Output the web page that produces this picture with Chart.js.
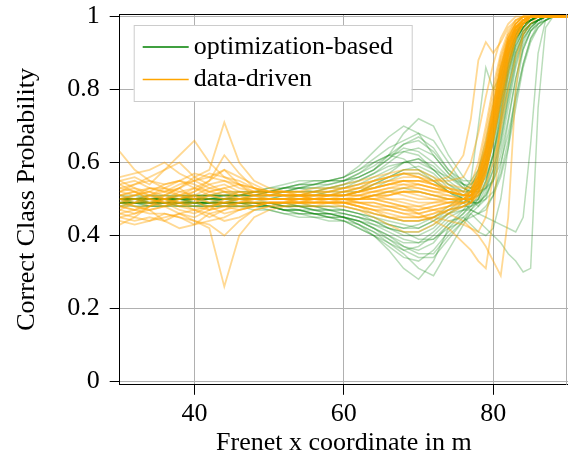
<!DOCTYPE html>
<html>
<head>
<meta charset="utf-8">
<script src="https://cdn.jsdelivr.net/npm/chart.js@4/dist/chart.umd.min.js"></script>
<style>
  html, body { margin: 0; padding: 0; background: #fff; }
</style>
</head>
<body>
<canvas id="probChart" width="568" height="456"></canvas>
<script>
// frenet x positions (m) shared by every run
const X_POS = [30,32,34,36,38,40,42,44,46,48,50,52,54,56,58,60,62,64,66,68,70,72,74,76,
               77,78,79,80,81,82,83,84,85,86,87,88,90]
const X_TICKS = [40, 60, 80]
const Y_TICKS = [0, 0.2, 0.4, 0.6, 0.8, 1]
const SERIES_NAMES = ['optimization-based', 'data-driven']

// correct class probability, one row per run
const optimizationRuns = [
  [0.50,0.50,0.49,0.50,0.50,0.49,0.50,0.50,0.50,0.51,0.52, 0.53,0.54,0.54,0.55,0.55, 0.57,0.59,0.62,0.65,0.66,0.63,0.58,0.55, 0.55,0.58,0.64,0.72,0.82,0.90,0.95,0.98,0.99,1.00,1.00,1.00, 1.00],
  [0.49,0.49,0.48,0.48,0.49,0.49,0.48,0.48,0.49,0.49,0.48, 0.47,0.47,0.46,0.46,0.45, 0.44,0.42,0.40,0.38,0.38,0.41,0.45,0.47, 0.48,0.50,0.55,0.63,0.74,0.85,0.93,0.97,0.99,1.00,1.00,1.00, 1.00],
  [0.50,0.51,0.51,0.50,0.50,0.51,0.51,0.52,0.52,0.52,0.53, 0.53,0.53,0.52,0.53,0.54, 0.56,0.58,0.62,0.68,0.72,0.70,0.62,0.56, 0.54,0.56,0.60,0.68,0.78,0.87,0.94,0.97,0.99,1.00,1.00,1.00, 1.00],
  [0.49,0.49,0.49,0.48,0.48,0.48,0.49,0.49,0.49,0.49,0.48, 0.47,0.46,0.46,0.45,0.44, 0.42,0.40,0.36,0.31,0.28,0.33,0.42,0.46, 0.49,0.53,0.60,0.70,0.80,0.89,0.95,0.98,0.99,1.00,1.00,1.00, 1.00],
  [0.50,0.50,0.50,0.49,0.49,0.50,0.50,0.50,0.51,0.51,0.51, 0.52,0.52,0.52,0.51,0.51, 0.52,0.54,0.56,0.58,0.59,0.57,0.53,0.50, 0.50,0.51,0.53,0.58,0.66,0.77,0.87,0.94,0.97,0.99,1.00,1.00, 1.00],
  [0.48,0.48,0.48,0.49,0.49,0.48,0.48,0.48,0.48,0.47,0.47, 0.46,0.45,0.45,0.45,0.45, 0.44,0.42,0.40,0.37,0.35,0.35,0.40,0.44, 0.46,0.44,0.42,0.40,0.38,0.35,0.33,0.30,0.31,0.75,0.97,1.00, 1.00],
  [0.50,0.50,0.50,0.51,0.51,0.50,0.50,0.51,0.51,0.52,0.52, 0.53,0.54,0.55,0.55,0.56, 0.58,0.60,0.62,0.63,0.62,0.58,0.54,0.52, 0.55,0.70,0.86,0.80,0.84,0.92,0.96,0.98,0.99,1.00,1.00,1.00, 1.00],
  [0.49,0.49,0.50,0.50,0.49,0.49,0.49,0.50,0.50,0.50,0.49, 0.48,0.48,0.47,0.47,0.46, 0.45,0.44,0.42,0.40,0.40,0.42,0.46,0.49, 0.51,0.55,0.62,0.72,0.83,0.91,0.96,0.98,0.99,1.00,1.00,1.00, 1.00],
  [0.50,0.50,0.49,0.49,0.50,0.50,0.51,0.51,0.51,0.51,0.52, 0.52,0.53,0.53,0.54,0.55, 0.56,0.58,0.61,0.64,0.63,0.60,0.56,0.53, 0.52,0.52,0.53,0.55,0.60,0.68,0.78,0.87,0.94,0.98,0.99,1.00, 1.00],
  [0.48,0.49,0.49,0.49,0.48,0.48,0.48,0.49,0.48,0.48,0.48, 0.47,0.47,0.46,0.45,0.44, 0.42,0.40,0.37,0.34,0.33,0.36,0.41,0.45, 0.47,0.49,0.53,0.60,0.70,0.81,0.90,0.95,0.98,0.99,1.00,1.00, 1.00],
  [0.50,0.49,0.49,0.49,0.50,0.50,0.50,0.49,0.49,0.49,0.49, 0.49,0.48,0.48,0.48,0.48, 0.47,0.46,0.45,0.44,0.44,0.45,0.47,0.48, 0.48,0.49,0.51,0.56,0.64,0.75,0.86,0.93,0.97,0.99,1.00,1.00, 1.00],
  [0.51,0.51,0.50,0.50,0.50,0.51,0.51,0.51,0.52,0.52,0.53, 0.54,0.55,0.55,0.55,0.56, 0.58,0.61,0.64,0.66,0.68,0.66,0.60,0.54, 0.50,0.48,0.50,0.56,0.66,0.78,0.88,0.94,0.97,0.99,1.00,1.00, 1.00],
  [0.49,0.48,0.48,0.48,0.49,0.49,0.49,0.48,0.48,0.48,0.47, 0.46,0.46,0.45,0.44,0.44, 0.43,0.41,0.38,0.36,0.37,0.40,0.44,0.45, 0.43,0.41,0.40,0.42,0.50,0.64,0.80,0.91,0.96,0.99,1.00,1.00, 1.00],
  [0.49,0.50,0.50,0.50,0.50,0.50,0.50,0.50,0.50,0.50,0.50, 0.51,0.51,0.51,0.52,0.52, 0.53,0.55,0.57,0.60,0.61,0.59,0.55,0.52, 0.52,0.54,0.59,0.67,0.77,0.87,0.94,0.97,0.99,1.00,1.00,1.00, 1.00],
  [0.50,0.50,0.50,0.50,0.51,0.51,0.50,0.50,0.51,0.52,0.52, 0.52,0.53,0.54,0.54,0.55, 0.57,0.60,0.62,0.61,0.58,0.55,0.52,0.50, 0.49,0.50,0.54,0.62,0.73,0.84,0.92,0.96,0.98,0.99,1.00,1.00, 1.00],
  [0.49,0.49,0.49,0.49,0.49,0.49,0.49,0.49,0.49,0.49,0.48, 0.48,0.47,0.47,0.46,0.45, 0.44,0.43,0.42,0.41,0.39,0.39,0.42,0.44, 0.45,0.46,0.48,0.51,0.56,0.64,0.75,0.86,0.93,0.97,0.99,1.00, 1.00],
  [0.50,0.50,0.51,0.51,0.50,0.50,0.50,0.51,0.51,0.52,0.52, 0.53,0.53,0.54,0.55,0.56, 0.59,0.63,0.67,0.70,0.68,0.62,0.57,0.54, 0.53,0.55,0.60,0.69,0.80,0.89,0.95,0.98,0.99,1.00,1.00,1.00, 1.00],
  [0.49,0.49,0.48,0.48,0.48,0.49,0.49,0.49,0.49,0.48,0.48, 0.47,0.47,0.46,0.46,0.45, 0.43,0.40,0.38,0.35,0.31,0.29,0.36,0.43, 0.46,0.48,0.52,0.58,0.68,0.79,0.89,0.95,0.98,0.99,1.00,1.00, 1.00],
  [0.50,0.50,0.49,0.49,0.49,0.50,0.50,0.50,0.49,0.49,0.49, 0.49,0.48,0.48,0.47,0.47, 0.46,0.45,0.44,0.43,0.42,0.44,0.46,0.47, 0.47,0.46,0.45,0.44,0.43,0.42,0.41,0.45,0.65,0.90,0.99,1.00, 1.00],
  [0.51,0.50,0.50,0.50,0.51,0.51,0.51,0.51,0.51,0.51,0.51, 0.52,0.52,0.52,0.53,0.53, 0.55,0.57,0.59,0.60,0.60,0.58,0.56,0.54, 0.54,0.57,0.63,0.71,0.81,0.90,0.95,0.98,0.99,1.00,1.00,1.00, 1.00],
  [0.49,0.49,0.49,0.50,0.50,0.49,0.49,0.49,0.49,0.49,0.49, 0.48,0.48,0.48,0.47,0.47, 0.46,0.45,0.43,0.42,0.42,0.44,0.47,0.50, 0.52,0.56,0.63,0.73,0.84,0.92,0.96,0.98,0.99,1.00,1.00,1.00, 1.00],
  [0.50,0.50,0.50,0.50,0.49,0.49,0.49,0.49,0.50,0.50,0.50, 0.50,0.50,0.50,0.50,0.50, 0.50,0.51,0.52,0.53,0.52,0.51,0.50,0.49, 0.49,0.49,0.50,0.52,0.57,0.66,0.77,0.87,0.94,0.97,0.99,1.00, 1.00],
  [0.50,0.50,0.50,0.50,0.50,0.50,0.50,0.50,0.50,0.50,0.50, 0.51,0.51,0.52,0.52,0.53, 0.54,0.56,0.58,0.60,0.61,0.58,0.54,0.51, 0.51,0.53,0.58,0.66,0.76,0.86,0.93,0.97,0.99,1.00,1.00,1.00, 1.00],
  [0.49,0.49,0.49,0.49,0.49,0.49,0.49,0.49,0.49,0.49,0.49, 0.48,0.48,0.47,0.47,0.46, 0.45,0.43,0.41,0.39,0.38,0.39,0.43,0.46, 0.48,0.51,0.57,0.66,0.77,0.87,0.94,0.97,0.99,1.00,1.00,1.00, 1.00],
  [0.50,0.50,0.50,0.50,0.50,0.51,0.51,0.51,0.51,0.51,0.52, 0.52,0.53,0.53,0.53,0.54, 0.55,0.57,0.60,0.63,0.64,0.62,0.57,0.53, 0.52,0.53,0.56,0.62,0.71,0.81,0.90,0.95,0.98,0.99,1.00,1.00, 1.00],
  [0.49,0.49,0.49,0.49,0.48,0.48,0.48,0.48,0.48,0.48,0.48, 0.47,0.46,0.46,0.46,0.45, 0.44,0.42,0.39,0.37,0.36,0.38,0.43,0.47, 0.50,0.54,0.61,0.71,0.81,0.90,0.95,0.98,0.99,1.00,1.00,1.00, 1.00],
  [0.50,0.50,0.50,0.50,0.50,0.50,0.50,0.50,0.50,0.50,0.51, 0.51,0.51,0.51,0.51,0.52, 0.52,0.53,0.55,0.57,0.57,0.55,0.52,0.50, 0.49,0.49,0.51,0.55,0.62,0.72,0.83,0.91,0.96,0.98,0.99,1.00, 1.00],
  [0.49,0.49,0.50,0.50,0.50,0.49,0.49,0.49,0.49,0.49,0.49, 0.49,0.49,0.48,0.48,0.47, 0.46,0.44,0.42,0.41,0.41,0.43,0.46,0.48, 0.49,0.52,0.58,0.68,0.79,0.88,0.94,0.97,0.99,1.00,1.00,1.00, 1.00],
  [0.50,0.50,0.51,0.51,0.51,0.51,0.51,0.51,0.51,0.52,0.52, 0.53,0.54,0.54,0.55,0.55, 0.56,0.58,0.61,0.65,0.67,0.64,0.58,0.54, 0.53,0.54,0.58,0.65,0.75,0.85,0.92,0.96,0.98,0.99,1.00,1.00, 1.00],
  [0.50,0.49,0.49,0.49,0.49,0.49,0.49,0.50,0.50,0.49,0.49, 0.48,0.48,0.47,0.46,0.46, 0.45,0.44,0.43,0.42,0.43,0.45,0.48,0.51, 0.53,0.58,0.66,0.76,0.86,0.93,0.97,0.99,1.00,1.00,1.00,1.00, 1.00],
  [0.49,0.50,0.50,0.50,0.50,0.50,0.49,0.49,0.50,0.50,0.50, 0.50,0.51,0.51,0.51,0.51, 0.52,0.54,0.56,0.58,0.58,0.56,0.52,0.49, 0.47,0.46,0.47,0.51,0.59,0.71,0.83,0.92,0.96,0.98,1.00,1.00, 1.00],
  [0.50,0.50,0.49,0.49,0.49,0.49,0.49,0.49,0.49,0.48,0.48, 0.47,0.47,0.46,0.45,0.45, 0.43,0.41,0.39,0.36,0.34,0.34,0.39,0.44, 0.47,0.50,0.55,0.62,0.72,0.83,0.91,0.96,0.98,0.99,1.00,1.00, 1.00]
]

const dataDrivenRuns = [
  [0.55,0.56,0.54,0.58,0.60,0.56,0.58,0.71,0.60,0.55,0.53, 0.52,0.51,0.51,0.51,0.51, 0.52,0.53,0.54,0.55,0.55,0.54,0.53,0.52, 0.54,0.60,0.70,0.81,0.90,0.96,0.99,1.00,1.00,1.00,1.00,1.00, 1.00],
  [0.46,0.45,0.44,0.45,0.46,0.44,0.42,0.26,0.40,0.45,0.47, 0.48,0.49,0.49,0.49,0.49, 0.49,0.48,0.47,0.46,0.46,0.47,0.48,0.49, 0.50,0.55,0.64,0.75,0.86,0.94,0.98,1.00,1.00,1.00,1.00,1.00, 1.00],
  [0.63,0.58,0.55,0.54,0.55,0.57,0.56,0.55,0.54,0.53,0.52, 0.52,0.51,0.51,0.51,0.52, 0.53,0.55,0.56,0.57,0.57,0.55,0.53,0.51, 0.51,0.54,0.60,0.70,0.81,0.90,0.96,0.99,1.00,1.00,1.00,1.00, 1.00],
  [0.44,0.43,0.44,0.46,0.45,0.43,0.44,0.45,0.47,0.48,0.49, 0.49,0.50,0.50,0.49,0.49, 0.48,0.46,0.45,0.44,0.44,0.45,0.47,0.49, 0.50,0.53,0.60,0.71,0.83,0.92,0.97,0.99,1.00,1.00,1.00,1.00, 1.00],
  [0.52,0.53,0.52,0.50,0.51,0.53,0.52,0.51,0.50,0.50,0.50, 0.50,0.50,0.50,0.50,0.50, 0.51,0.50,0.49,0.48,0.46,0.44,0.42,0.38, 0.36,0.33,0.31,0.45,0.72,0.90,0.97,0.99,1.00,1.00,1.00,1.00, 1.00],
  [0.48,0.47,0.48,0.49,0.48,0.47,0.48,0.49,0.49,0.49,0.50, 0.50,0.50,0.49,0.49,0.49, 0.48,0.47,0.47,0.46,0.45,0.45,0.44,0.43, 0.42,0.40,0.37,0.33,0.29,0.45,0.80,0.96,1.00,1.00,1.00,1.00, 1.00],
  [0.50,0.51,0.53,0.52,0.51,0.52,0.54,0.55,0.53,0.52,0.51, 0.51,0.51,0.52,0.52,0.53, 0.54,0.55,0.56,0.57,0.56,0.55,0.56,0.62, 0.72,0.88,0.93,0.90,0.93,0.97,0.99,1.00,1.00,1.00,1.00,1.00, 1.00],
  [0.53,0.54,0.56,0.58,0.62,0.66,0.60,0.56,0.54,0.53,0.52, 0.51,0.51,0.50,0.50,0.50, 0.50,0.51,0.52,0.53,0.54,0.53,0.52,0.51, 0.52,0.56,0.64,0.75,0.86,0.94,0.98,1.00,1.00,1.00,1.00,1.00, 1.00],
  [0.47,0.46,0.47,0.44,0.42,0.43,0.46,0.44,0.45,0.47,0.48, 0.49,0.49,0.49,0.50,0.50, 0.50,0.50,0.49,0.48,0.48,0.49,0.50,0.50, 0.51,0.54,0.61,0.72,0.84,0.93,0.97,0.99,1.00,1.00,1.00,1.00, 1.00],
  [0.50,0.50,0.51,0.50,0.49,0.50,0.51,0.50,0.50,0.50,0.50, 0.50,0.50,0.50,0.51,0.51, 0.52,0.52,0.53,0.53,0.53,0.52,0.52,0.51, 0.51,0.54,0.60,0.70,0.81,0.90,0.96,0.98,1.00,1.00,1.00,1.00, 1.00],
  [0.54,0.55,0.53,0.52,0.53,0.55,0.57,0.56,0.55,0.53,0.52, 0.52,0.52,0.53,0.53,0.54, 0.55,0.56,0.57,0.58,0.58,0.56,0.54,0.53, 0.53,0.56,0.63,0.74,0.85,0.93,0.97,0.99,1.00,1.00,1.00,1.00, 1.00],
  [0.49,0.48,0.47,0.48,0.49,0.48,0.47,0.48,0.49,0.49,0.49, 0.49,0.49,0.48,0.48,0.48, 0.47,0.45,0.43,0.41,0.41,0.43,0.46,0.48, 0.49,0.51,0.57,0.67,0.79,0.89,0.95,0.98,1.00,1.00,1.00,1.00, 1.00],
  [0.51,0.52,0.50,0.49,0.50,0.51,0.50,0.49,0.50,0.51,0.51, 0.51,0.51,0.51,0.51,0.51, 0.51,0.52,0.52,0.51,0.50,0.50,0.50,0.50, 0.50,0.51,0.54,0.60,0.69,0.80,0.89,0.95,0.98,1.00,1.00,1.00, 1.00],
  [0.43,0.45,0.48,0.51,0.53,0.50,0.47,0.50,0.52,0.51,0.50, 0.50,0.49,0.49,0.49,0.49, 0.50,0.51,0.51,0.52,0.51,0.50,0.49,0.49, 0.50,0.54,0.62,0.73,0.84,0.93,0.97,0.99,1.00,1.00,1.00,1.00, 1.00],
  [0.56,0.57,0.58,0.60,0.57,0.55,0.56,0.58,0.56,0.54,0.52, 0.51,0.50,0.50,0.50,0.51, 0.52,0.54,0.55,0.56,0.56,0.54,0.52,0.51, 0.52,0.57,0.66,0.77,0.88,0.95,0.99,1.00,1.00,1.00,1.00,1.00, 1.00],
  [0.45,0.44,0.45,0.44,0.46,0.47,0.45,0.47,0.48,0.48,0.49, 0.49,0.49,0.50,0.50,0.49, 0.48,0.47,0.46,0.45,0.45,0.46,0.48,0.50, 0.52,0.58,0.68,0.79,0.89,0.95,0.98,1.00,1.00,1.00,1.00,1.00, 1.00],
  [0.50,0.49,0.49,0.50,0.51,0.50,0.49,0.49,0.50,0.50,0.50, 0.50,0.50,0.51,0.51,0.51, 0.51,0.51,0.50,0.49,0.48,0.47,0.46,0.44, 0.42,0.41,0.45,0.56,0.71,0.85,0.94,0.98,1.00,1.00,1.00,1.00, 1.00],
  [0.52,0.51,0.52,0.54,0.55,0.53,0.55,0.62,0.57,0.53,0.51, 0.51,0.51,0.50,0.50,0.50, 0.50,0.50,0.51,0.52,0.52,0.51,0.50,0.50, 0.51,0.55,0.63,0.74,0.85,0.93,0.97,0.99,1.00,1.00,1.00,1.00, 1.00],
  [0.48,0.47,0.46,0.46,0.45,0.44,0.43,0.40,0.44,0.47,0.48, 0.48,0.48,0.48,0.49,0.49, 0.48,0.47,0.45,0.44,0.44,0.45,0.47,0.48, 0.49,0.52,0.58,0.68,0.80,0.90,0.96,0.99,1.00,1.00,1.00,1.00, 1.00],
  [0.51,0.52,0.53,0.53,0.52,0.51,0.53,0.54,0.52,0.51,0.51, 0.51,0.51,0.52,0.52,0.53, 0.54,0.55,0.56,0.57,0.56,0.54,0.52,0.51, 0.51,0.53,0.58,0.67,0.78,0.88,0.95,0.98,1.00,1.00,1.00,1.00, 1.00],
  [0.47,0.49,0.51,0.50,0.48,0.49,0.51,0.52,0.50,0.49,0.49, 0.49,0.49,0.50,0.50,0.50, 0.49,0.49,0.48,0.48,0.47,0.48,0.49,0.50, 0.50,0.53,0.59,0.69,0.81,0.91,0.96,0.99,1.00,1.00,1.00,1.00, 1.00],
  [0.55,0.53,0.51,0.52,0.54,0.55,0.53,0.52,0.52,0.52,0.52, 0.52,0.52,0.52,0.53,0.53, 0.53,0.53,0.54,0.55,0.55,0.55,0.55,0.56, 0.60,0.68,0.78,0.87,0.94,0.98,1.00,1.00,1.00,1.00,1.00,1.00, 1.00],
  [0.51,0.50,0.49,0.50,0.52,0.53,0.51,0.50,0.50,0.51,0.51, 0.51,0.51,0.50,0.50,0.50, 0.50,0.51,0.51,0.52,0.52,0.51,0.51,0.50, 0.50,0.53,0.59,0.69,0.80,0.90,0.96,0.99,1.00,1.00,1.00,1.00, 1.00],
  [0.48,0.49,0.50,0.49,0.47,0.46,0.48,0.49,0.48,0.49,0.49, 0.49,0.50,0.50,0.50,0.50, 0.49,0.48,0.48,0.47,0.47,0.48,0.49,0.50, 0.51,0.55,0.62,0.72,0.83,0.92,0.97,0.99,1.00,1.00,1.00,1.00, 1.00],
  [0.53,0.52,0.51,0.53,0.55,0.54,0.52,0.53,0.54,0.52,0.51, 0.51,0.51,0.51,0.52,0.52, 0.53,0.54,0.55,0.55,0.55,0.54,0.53,0.52, 0.52,0.56,0.63,0.73,0.84,0.92,0.97,0.99,1.00,1.00,1.00,1.00, 1.00],
  [0.50,0.48,0.47,0.48,0.50,0.51,0.49,0.48,0.49,0.50,0.50, 0.50,0.50,0.50,0.50,0.50, 0.50,0.50,0.50,0.50,0.49,0.49,0.49,0.49, 0.49,0.52,0.58,0.68,0.79,0.89,0.95,0.98,1.00,1.00,1.00,1.00, 1.00],
  [0.52,0.54,0.55,0.53,0.51,0.50,0.52,0.53,0.51,0.50,0.50, 0.50,0.51,0.51,0.51,0.52, 0.52,0.53,0.54,0.55,0.54,0.53,0.52,0.51, 0.52,0.57,0.65,0.76,0.87,0.94,0.98,1.00,1.00,1.00,1.00,1.00, 1.00],
  [0.46,0.47,0.49,0.48,0.46,0.45,0.47,0.48,0.47,0.48,0.49, 0.49,0.49,0.49,0.49,0.48, 0.47,0.46,0.45,0.45,0.45,0.46,0.47,0.48, 0.49,0.52,0.57,0.66,0.77,0.87,0.94,0.98,1.00,1.00,1.00,1.00, 1.00],
  [0.50,0.51,0.52,0.51,0.50,0.52,0.55,0.58,0.54,0.51,0.50, 0.50,0.50,0.50,0.51,0.51, 0.51,0.52,0.53,0.54,0.54,0.53,0.52,0.51, 0.51,0.55,0.61,0.71,0.82,0.91,0.96,0.99,1.00,1.00,1.00,1.00, 1.00],
  [0.49,0.50,0.50,0.49,0.49,0.49,0.48,0.46,0.47,0.48,0.49, 0.49,0.49,0.49,0.49,0.49, 0.49,0.49,0.48,0.47,0.46,0.47,0.48,0.49, 0.50,0.54,0.61,0.72,0.83,0.92,0.97,0.99,1.00,1.00,1.00,1.00, 1.00],
  [0.54,0.52,0.50,0.51,0.53,0.56,0.54,0.52,0.51,0.52,0.52, 0.52,0.52,0.51,0.51,0.51, 0.52,0.53,0.54,0.54,0.53,0.52,0.51,0.50, 0.50,0.52,0.57,0.66,0.77,0.87,0.94,0.98,1.00,1.00,1.00,1.00, 1.00],
  [0.45,0.46,0.48,0.50,0.49,0.47,0.46,0.47,0.49,0.50,0.50, 0.50,0.49,0.49,0.49,0.50, 0.50,0.51,0.52,0.52,0.52,0.51,0.50,0.50, 0.51,0.56,0.64,0.75,0.86,0.94,0.98,1.00,1.00,1.00,1.00,1.00, 1.00]
]

const FONT = "'Liberation Serif', 'Times New Roman', serif"
const GREEN = '0, 128, 0'
const ORANGE = '255, 165, 0'

Chart.defaults.font.family = FONT
Chart.defaults.font.size = 26
Chart.defaults.color = '#000'

function toPoints(run){
    return run.map((y, i) => ({x: X_POS[i], y: y}))
}

// orange (data-driven) is drawn over the green runs
function getDataSets(){
    let sets = []
    optimizationRuns.forEach(run => {
        sets.push({
            label: SERIES_NAMES[0],
            data: toPoints(run),
            borderColor: 'rgba(' + GREEN + ', 0.27)',
            borderWidth: 1.5,
            pointRadius: 0,
            fill: false,
            order: 1
        })
    })
    dataDrivenRuns.forEach(run => {
        sets.push({
            label: SERIES_NAMES[1],
            data: toPoints(run),
            borderColor: 'rgba(' + ORANGE + ', 0.42)',
            borderWidth: 1.8,
            pointRadius: 0,
            fill: false,
            order: 0
        })
    })
    return sets
}

// frame on top / right plus the boxed legend inside the plot
const frameAndLegend = {
    id: 'frameAndLegend',
    afterDatasetsDraw(chart){
        const ctx = chart.ctx
        const a = chart.chartArea
        ctx.save()
        ctx.strokeStyle = '#000'
        ctx.lineWidth = 1
        ctx.beginPath()
        ctx.moveTo(a.left, a.top + 0.5)
        ctx.lineTo(a.right, a.top + 0.5)
        ctx.stroke()
        ctx.strokeStyle = '#b0b0b0'
        ctx.beginPath()
        ctx.moveTo(a.right - 1.5, a.top)
        ctx.lineTo(a.right - 1.5, a.bottom)
        ctx.stroke()

        // legend box
        const bx = a.left + 14, by = a.top + 11
        const bw = 278, bh = 76
        ctx.fillStyle = '#fff'
        ctx.fillRect(bx, by, bw, bh)
        ctx.strokeStyle = '#cccccc'
        ctx.strokeRect(bx + 0.5, by + 0.5, bw, bh)

        const colors = ['rgb(' + GREEN + ')', 'rgb(' + ORANGE + ')']
        ctx.font = '26px ' + FONT
        ctx.textBaseline = 'middle'
        ctx.textAlign = 'left'
        SERIES_NAMES.forEach((name, i) => {
            const ly = by + 22 + i * 32.5
            ctx.strokeStyle = colors[i]
            ctx.lineWidth = 1.5
            ctx.beginPath()
            ctx.moveTo(bx + 9, ly)
            ctx.lineTo(bx + 55, ly)
            ctx.stroke()
            ctx.fillStyle = '#000'
            ctx.fillText(name, bx + 60, ly)
        })
        ctx.restore()
    }
}

new Chart(document.getElementById('probChart'), {
    type: 'line',
    data: { datasets: getDataSets() },
    plugins: [frameAndLegend],
    options: {
        responsive: false,
        animation: false,
        devicePixelRatio: 1,
        layout: { padding: { left: 0, top: 14, right: 0, bottom: 0 } },
        plugins: {
            legend: { display: false },
            tooltip: { enabled: false }
        },
        elements: { line: { tension: 0 } },
        scales: {
            x: {
                type: 'linear',
                min: 30,
                max: 90,
                afterBuildTicks: axis => { axis.ticks = X_TICKS.map(v => ({value: v})) },
                grid: { color: '#b0b0b0', tickColor: '#000', tickLength: 10 },
                border: { color: '#000', width: 1 },
                ticks: { padding: 4, maxRotation: 0, font: { size: 26 } },
                title: {
                    display: true,
                    text: 'Frenet x coordinate in m',
                    font: { size: 26, lineHeight: 1.0 },
                    padding: { top: -4, bottom: 0 }
                }
            },
            y: {
                type: 'linear',
                min: -0.009,
                max: 1.007,
                afterBuildTicks: axis => { axis.ticks = Y_TICKS.map(v => ({value: v})) },
                grid: { color: '#b0b0b0', tickColor: '#000', tickLength: 10 },
                border: { color: '#000', width: 1 },
                ticks: { padding: 10, font: { size: 26, lineHeight: 0.3 }, callback: v => String(v) },
                title: {
                    display: true,
                    text: 'Correct Class Probability',
                    font: { size: 26 },
                    padding: { top: 12, bottom: 14 }
                }
            }
        }
    }
})
</script>
</body>
</html>
